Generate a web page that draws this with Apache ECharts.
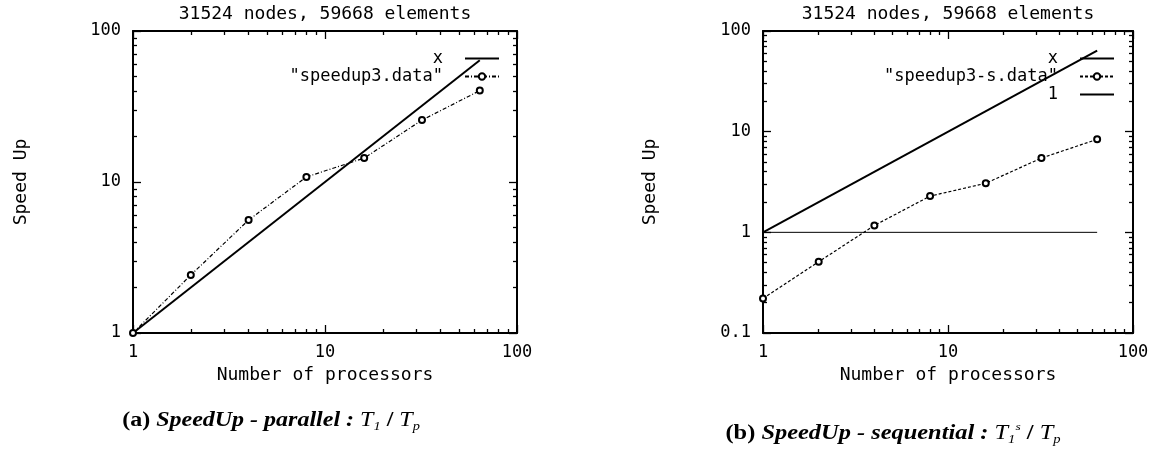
<!DOCTYPE html>
<html><head><meta charset="utf-8">
<script src="https://cdn.jsdelivr.net/npm/echarts@6/dist/echarts.min.js"></script>
<style>html,body{margin:0;padding:0;background:#fff}#c{width:1165px;height:456px}</style>
</head><body><div id="c"></div>
<script>
// ---- data ----
const processors = [1, 2, 4, 8, 16, 32, 64];
const speedupParallel = [1, 2.42, 5.6, 10.8, 14.4, 25.7, 40.3];
const speedupSequential = [0.22, 0.51, 1.17, 2.29, 3.07, 5.47, 8.39];
const identityX = [1, 64];
const identityY = [1, 64];
const unitX = [1, 64];
const unitY = [1, 1];
const xMajorTicks = [1, 10, 100];
const xMinorTicks = [2, 3, 4, 5, 6, 7, 8, 9, 20, 30, 40, 50, 60, 70, 80, 90];
const yMajorTicksA = [1, 10, 100];
const yMinorTicksA = [2, 3, 4, 5, 6, 7, 8, 9, 20, 30, 40, 50, 60, 70, 80, 90];
const yMajorTicksB = [0.1, 1, 10, 100];
const yMinorTicksB = [0.2, 0.3, 0.4, 0.5, 0.6, 0.7, 0.8, 0.9, 2, 3, 4, 5, 6, 7, 8, 9, 20, 30, 40, 50, 60, 70, 80, 90];
const titleText = '31524 nodes, 59668 elements';
const xName = 'Number of processors';
const yName = 'Speed Up';
const nameX = 'x';
const nameParallel = '"speedup3.data"';
const nameSequential = '"speedup3-s.data"';
const nameOne = '1';

// ---- chart ----
const MONO = "'DejaVu Sans Mono', monospace";
const txt = (size) => ({ fontFamily: MONO, fontSize: size, color: '#000', fontWeight: 'normal' });
const zip = (a, b) => a.map((v, i) => [v, b[i]]);

function makeX(grid, pos, major) {
  const labelled = pos === 'bottom' && major;
  return {
    type: 'log', logBase: 10, gridIndex: grid, position: pos, min: 1, max: 100, silent: true,
    axisLine: { show: major, onZero: false, lineStyle: { color: '#000', width: 2 } },
    axisTick: { show: true, inside: true, length: major ? 8 : 4, customValues: major ? xMajorTicks : xMinorTicks,
                lineStyle: { color: '#000', width: 1.3 } },
    axisLabel: labelled ? Object.assign({ show: true, margin: 11 }, txt(17)) : { show: false },
    splitLine: { show: false }, minorTick: { show: false },
    name: labelled ? xName : '', nameLocation: 'middle', nameGap: 28, nameTextStyle: txt(18)
  };
}
function makeY(grid, pos, major, min, majors, minors) {
  const labelled = pos === 'left' && major;
  return {
    type: 'log', logBase: 10, gridIndex: grid, position: pos, min: min, max: 100, silent: true,
    axisLine: { show: major, onZero: false, lineStyle: { color: '#000', width: 2 } },
    axisTick: { show: true, inside: true, length: major ? 8 : 4, customValues: major ? majors : minors,
                lineStyle: { color: '#000', width: 1.3 } },
    axisLabel: labelled ? Object.assign({ show: true, margin: 12 }, txt(17)) : { show: false },
    splitLine: { show: false }, minorTick: { show: false }
  };
}

const xAxis = [], yAxis = [];
[0, 1].forEach(g => {
  xAxis.push(makeX(g, 'bottom', true), makeX(g, 'bottom', false), makeX(g, 'top', true), makeX(g, 'top', false));
  const mn = g === 0 ? 1 : 0.1;
  const M = g === 0 ? yMajorTicksA : yMajorTicksB;
  const m = g === 0 ? yMinorTicksA : yMinorTicksB;
  yAxis.push(makeY(g, 'left', true, mn, M, m), makeY(g, 'left', false, mn, M, m),
             makeY(g, 'right', true, mn, M, m), makeY(g, 'right', false, mn, M, m));
});

const solid = (w) => ({ color: '#000', width: w, type: 'solid' });
const series = [
  { name: nameX, type: 'line', xAxisIndex: 0, yAxisIndex: 0, data: zip(identityX, identityY),
    symbol: 'none', lineStyle: solid(2), itemStyle: { color: '#000' }, silent: true, z: 3 },
  { name: nameParallel, type: 'line', xAxisIndex: 0, yAxisIndex: 0, data: zip(processors, speedupParallel),
    symbol: 'emptyCircle', symbolSize: 6, showAllSymbol: true,
    lineStyle: { color: '#000', width: 1.2, type: [4, 2, 1, 2] },
    itemStyle: { color: '#000', borderColor: '#000', borderWidth: 1.3 }, silent: true, z: 4 },
  { name: nameX, type: 'line', xAxisIndex: 4, yAxisIndex: 4, data: zip(identityX, identityY),
    symbol: 'none', lineStyle: solid(2), itemStyle: { color: '#000' }, silent: true, z: 3 },
  { name: nameSequential, type: 'line', xAxisIndex: 4, yAxisIndex: 4, data: zip(processors, speedupSequential),
    symbol: 'emptyCircle', symbolSize: 6, showAllSymbol: true,
    lineStyle: { color: '#000', width: 1.2, type: [3, 2] },
    itemStyle: { color: '#000', borderColor: '#000', borderWidth: 1.3 }, silent: true, z: 4 },
  { name: nameOne, type: 'line', xAxisIndex: 4, yAxisIndex: 4, data: zip(unitX, unitY),
    symbol: 'none', lineStyle: solid(1), itemStyle: { color: '#000' }, silent: true, z: 2 }
];

const legendBase = {
  orient: 'vertical', align: 'right', top: 50, itemWidth: 34, itemHeight: 8, itemGap: 1,
  selectedMode: false, padding: 0,
  textStyle: Object.assign({ padding: [0, 17, 0, 0] }, txt(17))
};
const legend = [
  Object.assign({}, legendBase, { right: 665,
    data: [{ name: nameX, itemStyle: { opacity: 0 } }, { name: nameParallel }] }),
  Object.assign({}, legendBase, { right: 50,
    data: [{ name: nameX, itemStyle: { opacity: 0 } }, { name: nameSequential }, { name: nameOne, itemStyle: { opacity: 0 } }] })
];

const serif = "'Liberation Serif', 'DejaVu Serif', serif";
function caption(cx, cy, parts, sx) {
  return {
    type: 'text', x: cx, y: cy, scaleX: sx, silent: true,
    style: {
      text: parts, align: 'center', verticalAlign: 'middle', fill: '#000',
      rich: {
        n: { fontFamily: serif, fontSize: 20, fontWeight: 'bold', lineHeight: 24, verticalAlign: 'middle' },
        i: { fontFamily: serif, fontSize: 20, fontWeight: 'bold', fontStyle: 'italic', lineHeight: 24, verticalAlign: 'middle' },
        t: { fontFamily: serif, fontSize: 20, fontStyle: 'italic', lineHeight: 24, verticalAlign: 'middle' },
        sb: { fontFamily: serif, fontSize: 12, fontStyle: 'italic', lineHeight: 14, verticalAlign: 'bottom' },
        sp: { fontFamily: serif, fontSize: 11, fontStyle: 'italic', lineHeight: 14, verticalAlign: 'top' }
      }
    }
  };
}
const monoText = (x, y, text, size, rot) => ({
  type: 'text', x: x, y: y, rotation: rot || 0, silent: true,
  style: { text: text, align: 'center', verticalAlign: 'middle', fill: '#000', font: size + 'px ' + MONO }
});

const graphic = [
  monoText(325, 14, titleText, 18),
  monoText(948, 14, titleText, 18),
  monoText(21, 182, yName, 18, Math.PI / 2),
  monoText(650, 182, yName, 18, Math.PI / 2),
  caption(271, 421, '{n|(a) }{i|SpeedUp - parallel : }{t|T}{sb|1}{n| / }{t|T}{sb|p}', 1.2),
  caption(893, 434, '{n|(b) }{i|SpeedUp - sequential : }{t|T}{sb|1}{sp|s}{n| / }{t|T}{sb|p}', 1.22)
];

const chart = echarts.init(document.getElementById('c'), null, { renderer: 'canvas' });
chart.setOption({
  animation: false,
  backgroundColor: '#fff',
  grid: [
    { left: 133, top: 31, width: 384, height: 302, containLabel: false },
    { left: 763, top: 31, width: 370, height: 302, containLabel: false }
  ],
  xAxis: xAxis, yAxis: yAxis, series: series, legend: legend, graphic: graphic
});
</script></body></html>
